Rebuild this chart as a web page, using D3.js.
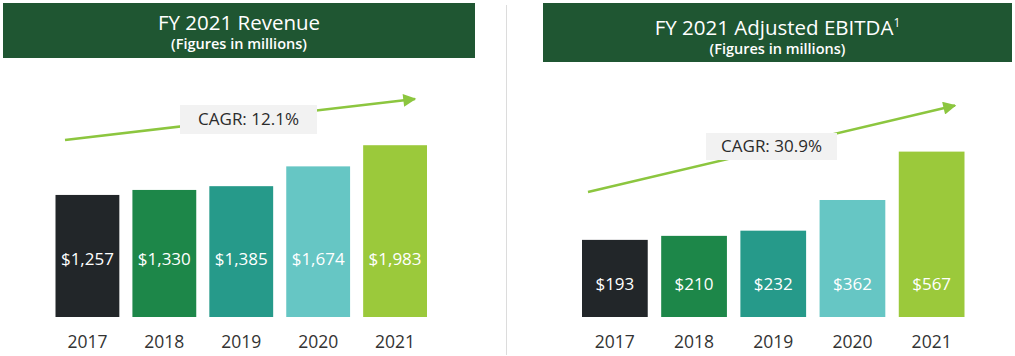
<!DOCTYPE html>
<html><head><meta charset="utf-8">
<script src="https://cdn.jsdelivr.net/npm/d3@7"></script>
<style>
html,body{margin:0;padding:0;background:#fff;}
svg{display:block;font-family:"Open Sans","Noto Sans",sans-serif;}
</style></head>
<body><svg id="c" width="1015" height="356"></svg>
<script>
const years = ["2017","2018","2019","2020","2021"];
const revenue = [1257,1330,1385,1674,1983];
const ebitda = [193,210,232,362,567];
const barColors = ["#222629","#1d8749","#269a8a","#66c6c4","#9bc93b"];
const revenueTitle = "FY 2021 Revenue";
const ebitdaTitle = "FY 2021 Adjusted EBITDA";
const ebitdaNote = "1";
const subtitle = "(Figures in millions)";
const revenueCagr = "CAGR: 12.1%";
const ebitdaCagr = "CAGR: 30.9%";

const svg = d3.select("#c");
const defs = svg.append("defs");
defs.append("marker").attr("id","ah").attr("viewBox","0 0 10 10")
  .attr("refX",9).attr("refY",5).attr("markerUnits","userSpaceOnUse")
  .attr("markerWidth",14).attr("markerHeight",13).attr("orient","auto")
  .append("path").attr("d","M0,0L10,5L0,10Z").attr("fill","#8cc63f");

// divider
svg.append("line").attr("x1",506.5).attr("x2",506.5).attr("y1",5).attr("y2",355)
  .attr("stroke","#dcdcdc").attr("stroke-width",1);

function panel(o){
  const g = svg.append("g");
  // header
  g.append("rect").attr("x",o.hx).attr("y",o.hy).attr("width",o.hw).attr("height",o.hh)
    .attr("fill","#1f5632");
  const t = g.append("text").attr("x",o.hx+o.hw/2).attr("y",o.ty).attr("text-anchor","middle")
    .attr("fill","#fff").attr("font-size",20.5);
  t.append("tspan").text(o.title);
  if(o.note){
    t.append("tspan").attr("font-size",12).attr("dy",-8).text(o.note);
  }
  g.append("text").attr("x",o.hx+o.hw/2).attr("y",o.sy).attr("text-anchor","middle")
    .attr("fill","#fff").attr("font-size",14.5).attr("font-weight",600).text(subtitle);

  const x = d3.scaleBand().domain(years).range([o.x0,o.x1]).paddingInner(o.pad).paddingOuter(0);
  const y = d3.scaleLinear().domain(o.dom).range([o.base,o.top]);

  g.selectAll("rect.bar").data(o.vals).join("rect").attr("class","bar")
    .attr("x",(d,i)=>x(years[i])).attr("width",x.bandwidth())
    .attr("y",d=>y(d)).attr("height",d=>o.base-y(d))
    .attr("fill",(d,i)=>barColors[i]);

  g.selectAll("text.val").data(o.vals).join("text").attr("class","val")
    .attr("x",(d,i)=>x(years[i])+x.bandwidth()/2).attr("y",o.base-o.labOff)
    .attr("dy","0.35em").attr("text-anchor","middle").attr("fill","#fff")
    .attr("font-size",17).text(d=>"$"+d3.format(",")(d));

  const ax = g.append("g").attr("transform",`translate(0,${o.base})`)
    .call(d3.axisBottom(x).tickSize(0).tickPadding(19));
  ax.select(".domain").remove();
  ax.selectAll("text").attr("font-size",17.5).attr("fill","#333")
    .attr("font-family","\"Open Sans\",\"Noto Sans\",sans-serif");

  // CAGR arrow
  g.append("line").attr("x1",o.a[0]).attr("y1",o.a[1]).attr("x2",o.a[2]).attr("y2",o.a[3])
    .attr("stroke","#8cc63f").attr("stroke-width",2.5).attr("marker-end","url(#ah)");
  g.append("rect").attr("x",o.b[0]).attr("y",o.b[1]).attr("width",o.b[2]).attr("height",o.b[3])
    .attr("fill","#f2f2f2");
  g.append("text").attr("x",o.b[0]+o.b[2]/2).attr("y",o.b[1]+o.b[3]/2).attr("dy","0.35em")
    .attr("text-anchor","middle").attr("fill","#2b2b2b").attr("font-size",17).text(o.cagr);
}

panel({title:revenueTitle, cagr:revenueCagr, vals:revenue,
  hx:3,hy:3,hw:472,hh:55, ty:29.5, sy:49,
  x0:55.5,x1:427, pad:0.17, base:317, top:137.2, dom:[-525,2100], labOff:58,
  a:[65,140,415,99], b:[180,105,137,29]});

panel({title:ebitdaTitle, note:ebitdaNote, cagr:ebitdaCagr, vals:ebitda,
  hx:543,hy:3,hw:469,hh:59, ty:34.5, sy:53.5,
  x0:582,x1:964.5, pad:0.17, base:317, top:317-0.236*(600+133.8), dom:[-133.8,600], labOff:33,
  a:[588,192,955,105.5], b:[706,133,131,27]});
</script></body></html>
